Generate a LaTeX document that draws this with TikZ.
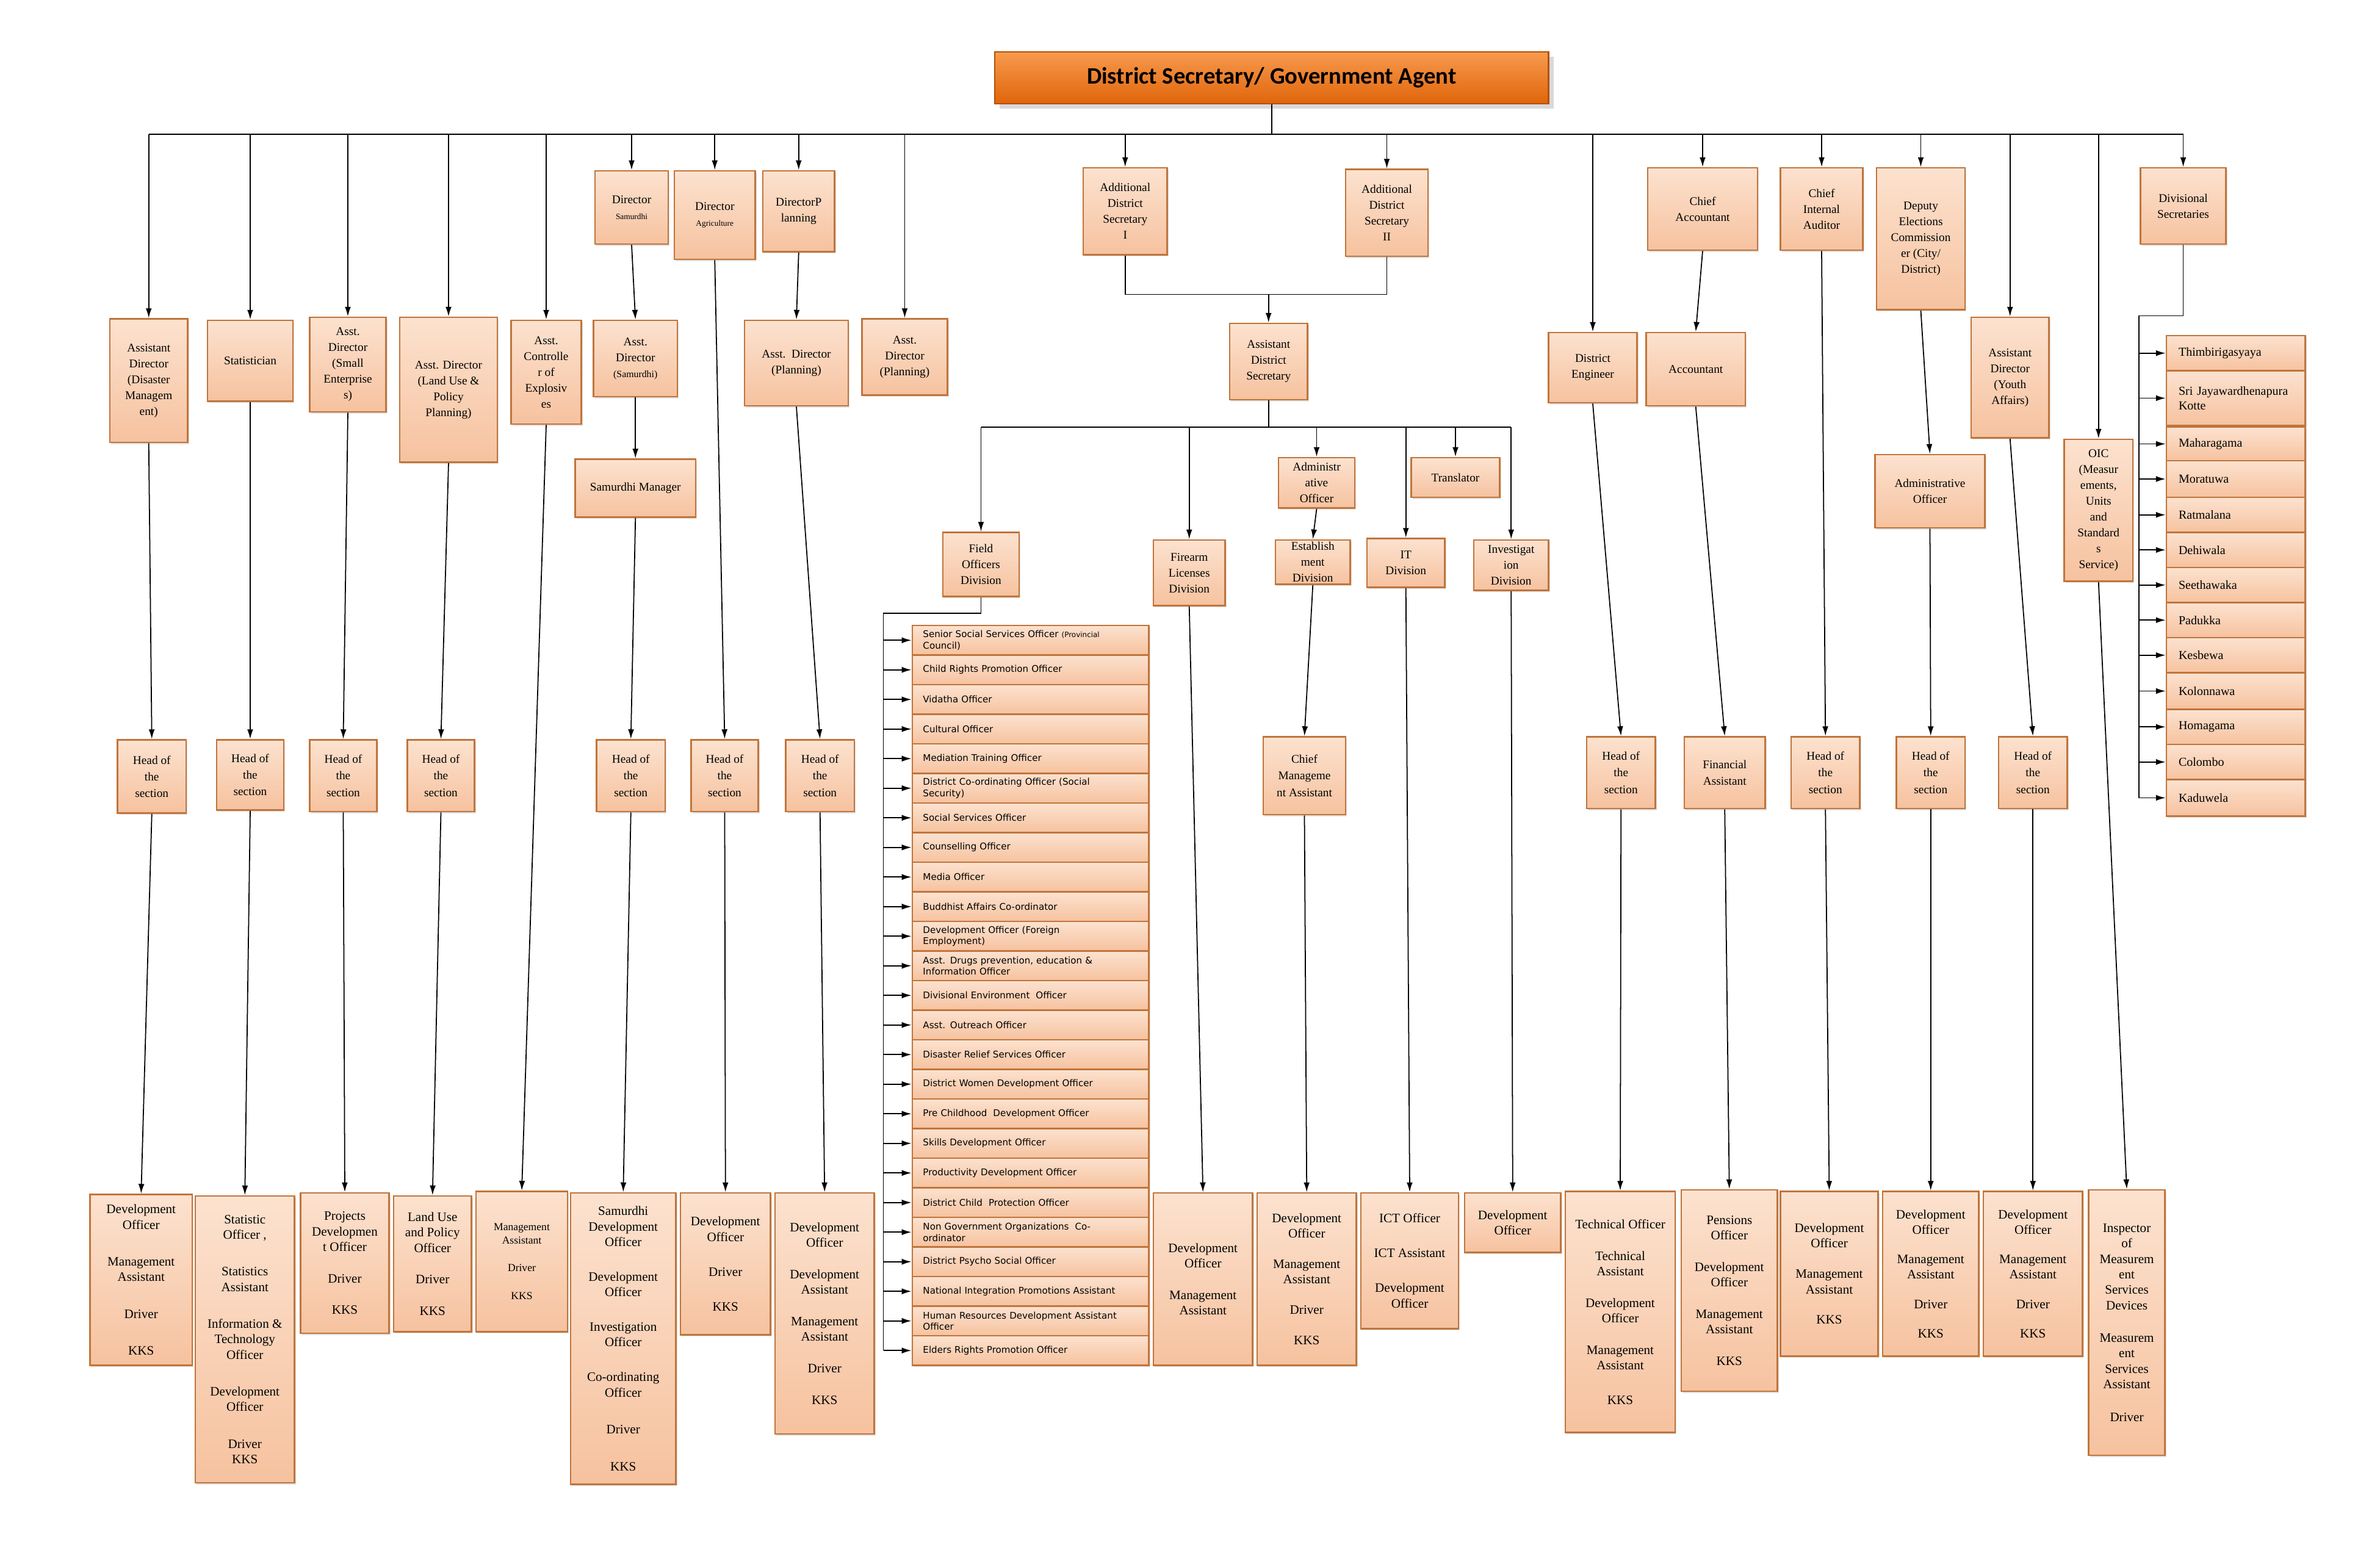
\documentclass[tikz,border=0pt]{standalone}
\usepackage{fontspec}
\setmainfont{Liberation Serif}
\newfontfamily\djs{DejaVu Sans}
\newfontfamily\carl{Carlito}
\usetikzlibrary{arrows.meta,shadows}
\definecolor{bord}{HTML}{C0753C}
\definecolor{pka}{HTML}{FCE2CF}
\definecolor{pkb}{HTML}{F6C29F}
\definecolor{ora}{HTML}{F79A4E}
\definecolor{orb}{HTML}{E0650A}
\newcommand\obox[7][]{\node[box,minimum width=#5*0.025cm,minimum height=#6*0.025cm,#1] (#2) at (#3,#4) {#7};}
\begin{document}
\begin{tikzpicture}[x=0.025cm,y=-0.025cm,
 box/.style={draw=bord,line width=0.8pt,top color=pka,bottom color=pkb,align=center,inner sep=1pt,
   font=\fontsize{5.5}{7.4}\selectfont,drop shadow={opacity=0.25,shadow xshift=0.6pt,shadow yshift=-0.8pt}},
 bot/.style={font=\fontsize{6}{7.2}\selectfont},
 hd/.style={font=\fontsize{5.5}{7.7}\selectfont},
 fl/.style={box,align=left,anchor=center,inner xsep=0.175cm,text width=3.525cm,font=\djs\fontsize{4.3}{5.2}\selectfont},
 dv/.style={box,align=left,inner xsep=0.2cm,text width=1.875cm,font=\fontsize{5.7}{7}\selectfont},
 ln/.style={line width=0.5pt},
 arr/.style={ln,-{Latex[length=4.5pt,width=2.8pt]}}]
\useasboundingbox (0,0) rectangle (1560,1020);
% title
\node[draw=orb!80!black,line width=0.8pt,top color=ora,bottom color=orb,minimum width=363*0.025cm,minimum height=34*0.025cm,
  font=\carl\bfseries\fontsize{11}{13}\selectfont,drop shadow={opacity=0.3}] (title) at (833.5,51) {District Secretary/ Government Agent};
% top row
\obox{dis}{97.5}{249.5}{51}{81}{Assistant\\Director\\(Disaster\\Managem\\ent)}
\obox{stat}{164}{236.5}{56}{53}{Statistician}
\obox{sme}{228}{239}{50}{62}{Asst.\\Director\\(Small\\Enterprise\\s)}
\obox{land}{294}{255.5}{64}{95}{Asst. Director\\(Land Use \&\\Policy\\Planning)}
\obox{expl}{358}{244}{46}{68}{Asst.\\Controlle\\r of\\Explosiv\\es}
\obox{dsam}{414}{136}{48}{48}{Director\\{\fontsize{3.8}{5}\selectfont Samurdhi}}
\obox{dagr}{468.5}{141}{53}{58}{Director\\{\fontsize{3.8}{5}\selectfont Agriculture}}
\obox{dpla}{523.5}{138.5}{47}{53}{DirectorP\\lanning}
\obox{adpl2}{593}{234}{56}{50}{Asst.\\Director\\(Planning)}
\obox{ads1}{737.5}{138.5}{55}{57}{Additional\\District\\Secretary\\I}
\obox{ads2}{909}{139.5}{54}{57}{Additional\\District\\Secretary\\II}
\obox{deng}{1044}{241}{58}{46}{District\\Engineer}
\obox{cacc}{1116}{137}{72}{54}{Chief\\Accountant}
\obox{cia}{1194}{137}{54}{54}{Chief\\Internal\\Auditor}
\obox{dec}{1259}{156.5}{58}{93}{Deputy\\Elections\\Commission\\er (City/\\District)}
\obox{youth}{1317.5}{247.5}{51}{79}{Assistant\\Director\\(Youth\\Affairs)}
\obox{oic}{1375.5}{334.5}{45}{93}{OIC\\(Measur\\ements,\\Units\\and\\Standard\\s\\Service)}
\obox{divs}{1431}{135}{56}{50}{Divisional\\Secretaries}
% second level
\obox{adsam}{416.5}{235}{55}{50}{Asst.\\Director\\{\fontsize{4.5}{6}\selectfont(Samurdhi)}}
\obox{smgr}{416.5}{320}{79}{38}{Samurdhi Manager}
\obox{adpl}{522}{238}{68}{56}{Asst.\ \ Director\\(Planning)}
\obox{ads}{831.5}{237}{51}{50}{Assistant\\District\\Secretary}
\obox{fod}{643}{370}{50}{42}{Field\\Officers\\Division}
\obox{fld}{779.5}{375.5}{47}{43}{Firearm\\Licenses\\Division}
\obox{admo}{863}{316.5}{50}{33}{Administr\\ative\\Officer}
\obox{est}{860.5}{368.5}{49}{29}{Establish\\ment\\Division}
\obox{itd}{921.5}{369}{51}{32}{IT\\Division}
\obox{trans}{954}{313}{58}{26}{Translator}
\obox{inv}{990.5}{370.5}{49}{33}{Investigat\\ion\\Division}
\obox{acc}{1111.5}{242}{65}{48}{Accountant}
\obox{eadm}{1265}{322}{72}{48}{Administrative\\Officer}
% heads
\obox[hd]{hdis}{99.5}{509}{45}{48}{Head of\\the\\section}
\obox[hd]{hstat}{164}{508}{44}{46}{Head of\\the\\section}
\obox[hd]{hsme}{225}{508.5}{44}{47}{Head of\\the\\section}
\obox[hd]{hland}{289}{508.5}{44}{47}{Head of\\the\\section}
\obox[hd]{hsam}{413.5}{508.5}{45}{47}{Head of\\the\\section}
\obox[hd]{hagr}{475}{508.5}{44}{47}{Head of\\the\\section}
\obox[hd]{hpla}{537.5}{508.5}{45}{47}{Head of\\the\\section}
\obox[hd]{cma}{855}{508.5}{54}{51}{Chief\\Manageme\\nt Assistant}
\obox[hd]{hdeng}{1062.5}{506.5}{45}{47}{Head of\\the\\section}
\obox[hd]{fa}{1130.5}{506.5}{53}{47}{Financial\\Assistant}
\obox[hd]{hcia}{1196.5}{506.5}{45}{47}{Head of\\the\\section}
\obox[hd]{hel}{1265.5}{506.5}{45}{47}{Head of\\the\\section}
\obox[hd]{hyou}{1332.5}{506.5}{45}{47}{Head of\\the\\section}
% bottom
\obox[bot]{bdis}{92.5}{839}{67}{112}{Development\\Officer\\[10pt]Management\\Assistant\\[10pt]Driver\\[10pt]KKS}
\obox[bot]{bstat}{160.5}{878}{65}{188}{Statistic\\Officer ,\\[10pt]Statistics\\Assistant\\[10pt]Information \&\\Technology\\Officer\\[10pt]Development\\Officer\\[10pt]Driver\\KKS}
\obox[bot]{bsme}{226}{828}{58}{92}{Projects\\Developmen\\t Officer\\[7.5pt]Driver\\[7.5pt]KKS}
\obox[bot]{bland}{283.5}{828.5}{51}{89}{Land Use\\and Policy\\Officer\\[7.5pt]Driver\\[7.5pt]KKS}
\obox[font=\fontsize{5}{6}\selectfont]{bexpl}{342}{827}{60}{92}{Management\\Assistant\\[7pt]Driver\\[7pt]KKS}
\obox[bot]{bsam}{408.5}{877.5}{69}{191}{Samurdhi\\Development\\Officer\\[9pt]Development\\Officer\\[9pt]Investigation\\Officer\\[9pt]Co-ordinating\\Officer\\[10pt]Driver\\[10pt]KKS}
\obox[bot]{bagr}{475.5}{828.5}{59}{93}{Development\\Officer\\[9pt]Driver\\[9pt]KKS}
\obox[bot]{bpla}{540.5}{861}{65}{158}{Development\\Officer\\[7.5pt]Development\\Assistant\\[7.5pt]Management\\Assistant\\[7.5pt]Driver\\[7.5pt]KKS}
\obox[bot]{bfld}{788.5}{838.5}{65}{113}{Development\\Officer\\[7.5pt]Management\\Assistant}
\obox[bot]{bcma}{856.5}{838.5}{65}{113}{Development\\Officer\\[7pt]Management\\Assistant\\[7pt]Driver\\[7pt]KKS}
\obox[bot]{bit}{924}{826.5}{64}{89}{ICT Officer\\[9pt]ICT Assistant\\[9pt]Development\\Officer}
\obox[bot]{binv}{991.5}{801.5}{63}{39}{Development\\Officer}
\obox[bot]{bdeng}{1062}{860}{72}{158}{Technical Officer\\[7.5pt]Technical\\Assistant\\[7.5pt]Development\\Officer\\[7.5pt]Management\\Assistant\\[9pt]KKS}
\obox[bot]{bfa}{1133.5}{846}{63}{132}{Pensions\\Officer\\[7.5pt]Development\\Officer\\[7.5pt]Management\\Assistant\\[7.5pt]KKS}
\obox[bot]{bcia}{1199}{835}{64}{108}{Development\\Officer\\[7pt]Management\\Assistant\\[7pt]KKS}
\obox[bot]{bel}{1265.5}{835}{63}{108}{Development\\Officer\\[6.5pt]Management\\Assistant\\[6.5pt]Driver\\[6.5pt]KKS}
\obox[bot]{byou}{1332.5}{835}{65}{108}{Development\\Officer\\[6.5pt]Management\\Assistant\\[6.5pt]Driver\\[6.5pt]KKS}
\obox[bot]{boic}{1394}{867}{50}{174}{Inspector\\of\\Measurem\\ent\\Services\\Devices\\[8pt]Measurem\\ent\\Services\\Assistant\\[8pt]Driver}
% top bus
\coordinate (bus) at (830,88);
\draw[ln] (title.south) -- (title.south |- bus);
\draw[ln] (dis.north |- bus) -- (divs.north |- bus);
\foreach \n in {dis,stat,sme,land,expl,dsam,dagr,dpla,adpl2,ads1,ads2,deng,cacc,cia,dec,youth,oic,divs}
  \draw[arr] (\n.north |- bus) -- (\n.north);
% chains
\foreach \a/\b in {dis/hdis,hdis/bdis,stat/hstat,hstat/bstat,sme/hsme,hsme/bsme,land/hland,hland/bland,expl/bexpl,
  dsam/adsam,adsam/smgr,smgr/hsam,hsam/bsam,dagr/hagr,hagr/bagr,dpla/adpl,adpl/hpla,hpla/bpla,
  admo/est,est/cma,cma/bcma,fld/bfld,itd/bit,inv/binv,deng/hdeng,hdeng/bdeng,cacc/acc,acc/fa,fa/bfa,
  cia/hcia,hcia/bcia,dec/eadm,eadm/hel,hel/bel,youth/hyou,hyou/byou,oic/boic}
  \draw[arr] (\a.south) -- (\b.north);
% ADS I/II join
\coordinate (j) at (831.5,193);
\draw[ln] (ads1.south) |- (j) -| (ads2.south);
\draw[arr] (ads.north |- j) -- (ads.north);
\coordinate (b2) at (831.5,280);
\draw[ln] (ads.south) -- (ads.south |- b2);
\draw[ln] (fod.north |- b2) -- (inv.north |- b2);
\foreach \n in {fod,fld,admo,itd,trans,inv}
  \draw[arr] (\n.north |- b2) -- (\n.north);
% field officer list
\coordinate (flx) at (579,402);
\foreach \t [count=\i] in {{Senior Social Services Officer {\fontsize{3.4}{4}\selectfont (Provincial}\\Council)},
 {Child Rights Promotion Officer},{Vidatha Officer},{Cultural Officer},{Mediation Training Officer},
 {District Co-ordinating Officer (Social\\Security)},{Social Services Officer},{Counselling Officer},
 {Media Officer},{Buddhist Affairs Co-ordinator},{Development Officer (Foreign\\Employment)},
 {Asst. Drugs prevention, education \&\\Information Officer},{Divisional Environment\ \ Officer},
 {Asst. Outreach Officer},{Disaster Relief Services Officer},{District Women Development Officer},
 {Pre Childhood\ \ Development Officer},{Skills Development Officer},{Productivity Development Officer},
 {District Child\ \ Protection Officer},{Non Government Organizations\ \ Co-\\ordinator},
 {District Psycho Social Officer},{National Integration Promotions Assistant},
 {Human Resources Development Assistant\\Officer},{Elders Rights Promotion Officer}}
 {\node[fl,minimum height=19.4*0.025cm,minimum width=155*0.025cm] (f\i) at (675.5,{410+19.4*(\i-0.5)}) {\t};}
\draw[ln] (fod.south) |- (flx) -- (flx |- f25.west);
\foreach \i in {1,...,25} \draw[arr] (flx |- f\i.west) -- (f\i.west);
% divisional secretariats
\coordinate (dlx) at (1402,207);
\foreach \t/\ya/\yb [count=\i] in {Thimbirigasyaya/220/243,{Sri Jayawardhenapura\\Kotte}/243/279,Maharagama/280/302,
 Moratuwa/302/326,Ratmalana/326/349,Dehiwala/349/372,Seethawaka/372/395,Padukka/395/418,Kesbewa/418/441,
 Kolonnawa/441/465,Homagama/465/488,Colombo/488/511,Kaduwela/511/535}
 {\node[dv,minimum height={(\yb-\ya)*0.025cm},minimum width=91*0.025cm] (d\i) at (1465.5,{(\ya+\yb)/2}) {\t};}
\draw[ln] (divs.south) |- (dlx) -- (dlx |- d13.west);
\foreach \i in {1,...,13} \draw[arr] (dlx |- d\i.west) -- (d\i.west);
\end{tikzpicture}
\end{document}
